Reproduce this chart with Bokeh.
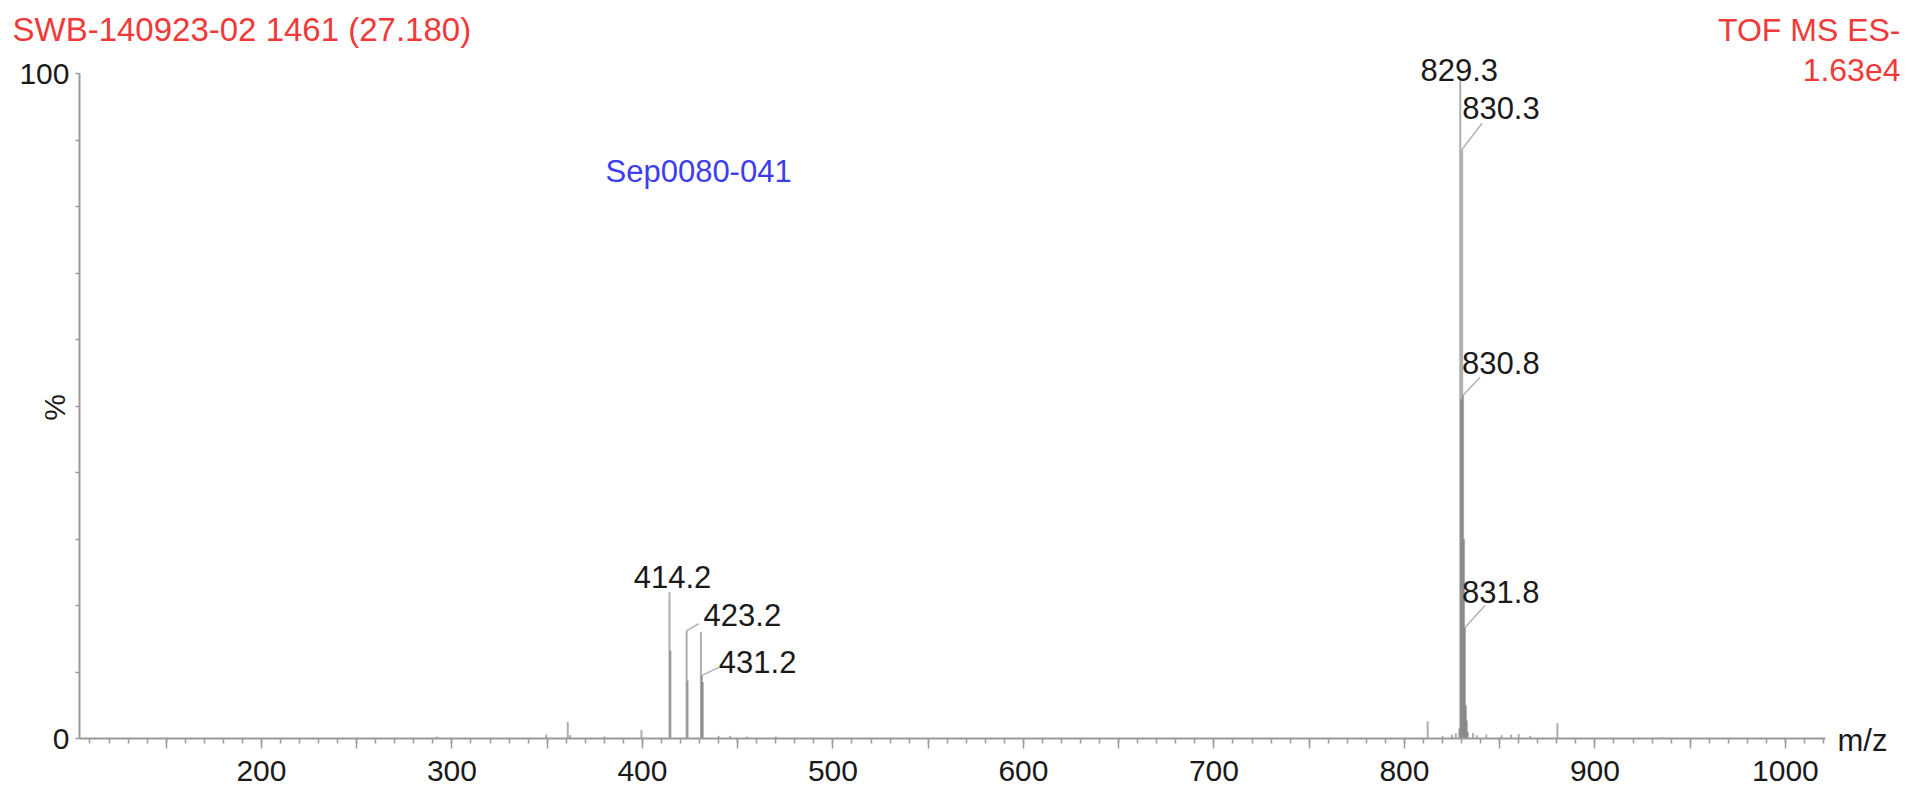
from bokeh.plotting import figure
from bokeh.models import Range1d, FixedTicker, Label, ColumnDataSource
from bokeh.core.properties import value, field
from bokeh.embed import file_html
from bokeh.resources import INLINE

# ---------------- data ----------------
stick_mz = [292.0, 349.5, 360.8, 362.0, 380.0, 399.5,
            414.2, 414.7, 423.2, 423.7, 430.7, 431.2, 431.7,
            440.0, 446.0, 455.0, 470.0,
            812.2, 820.0, 825.0, 827.0, 828.8,
            829.3, 829.8, 830.3, 830.8, 831.3, 831.8, 832.3, 832.8, 833.3,
            836.0, 838.0, 843.0, 851.0, 856.0, 860.0, 866.0, 880.3, 935.0]
stick_int = [0.3, 0.6, 2.5, 0.5, 0.3, 1.3,
             22.0, 13.2, 16.2, 8.7, 16.0, 9.5, 8.5,
             0.4, 0.4, 0.3, 0.3,
             2.6, 0.4, 0.6, 0.8, 1.5,
             100.0, 51.0, 88.6, 51.6, 30.0, 16.7, 5.0, 2.7, 1.0,
             0.8, 0.5, 0.6, 0.5, 0.6, 0.7, 0.4, 2.3, 0.2]

label_mz = [414.2, 423.2, 431.2, 829.3, 830.3, 830.8, 831.8]
label_int = [22.0, 16.2, 9.5, 100.0, 88.6, 51.6, 16.7]
label_text = ["414.2", "423.2", "431.2", "829.3", "830.3", "830.8", "831.8"]

x_tick_major = [150, 200, 250, 300, 350, 400, 450, 500, 550, 600, 650, 700,
                750, 800, 850, 900, 950, 1000]
x_tick_labelled = [200, 300, 400, 500, 600, 700, 800, 900, 1000]
x_tick_minor = list(range(110, 1021, 10))
y_ticks = [0, 10, 20, 30, 40, 50, 60, 70, 80, 90, 100]
y_tick_labelled = [0, 100]

title_left = "SWB-140923-02 1461 (27.180)"
title_right_1 = "TOF MS ES-"
title_right_2 = "1.63e4"
sample_name = "Sep0080-041"
x_title = "m/z"
y_title = "%"

# ---------------- layout ----------------
W, H = 1913, 793
AX_X = 79            # canvas x of the y axis
AX_Y = 738           # canvas y of the x axis
XS = 1.905           # px per m/z unit
YS = 6.65            # px per % unit
X_AXIS_START = 104.5
X_AXIS_END = 1021
X_START = X_AXIS_START - AX_X / XS
X_END = X_AXIS_START + (W - AX_X) / XS
Y_START = -(H - AX_Y) / YS
Y_END = AX_Y / YS
FONT = "Liberation Sans"
RED = "#EE3A3A"
BLUE = "#3D3DEE"
GREY = "#9a9a9a"
INK = "#1a1a1a"
LBL_SIZE = 31
MID = 0.35           # middle of text above its baseline, in em


def cx(px):   # canvas x -> data x
    return X_AXIS_START + (px - AX_X) / XS


def cy(py):   # canvas y -> data y
    return (AX_Y - py) / YS


# per-label placement: baseline offset (px right, px up), alignment, leader end, mask
label_layout = {
    "414.2": dict(tx=3, ty=4, align="center", lead=None, mask=False),
    "423.2": dict(tx=17, ty=5, align="left", lead=(12, 7), mask=False),
    "431.2": dict(tx=17, ty=2, align="left", lead=(17, 8), mask=False),
    "829.3": dict(tx=-1, ty=-7, align="center", lead=None, mask=True),
    "830.3": dict(tx=0, ty=30, align="left", lead=(20, 26), mask=False),
    "830.8": dict(tx=-1, ty=22, align="left", lead=(17, 18), mask=False),
    "831.8": dict(tx=-3, ty=25, align="left", lead=(20, 22), mask=False),
}

p = figure(width=W, height=H, output_backend="svg", toolbar_location=None,
           x_range=Range1d(X_START, X_END), y_range=Range1d(Y_START, Y_END),
           min_border_left=0, min_border_right=0, min_border_top=0,
           min_border_bottom=0, title=None)
p.outline_line_color = None
p.grid.visible = False
p.background_fill_color = "white"
p.border_fill_color = "white"

# x axis (drawn at y = 0 inside the frame)
xa = p.xaxis[0]
xa.fixed_location = 0
xa.ticker = FixedTicker(ticks=x_tick_major, minor_ticks=x_tick_minor)
xa.bounds = (X_AXIS_START, X_AXIS_END)
xa.major_label_overrides = {v: "" for v in x_tick_major if v not in x_tick_labelled}
xa.major_tick_out = 10
xa.major_tick_in = 0
xa.minor_tick_out = 5
xa.minor_tick_in = 0
xa.axis_line_color = GREY
xa.axis_line_width = 2
xa.major_tick_line_color = GREY
xa.major_tick_line_width = 1.5
xa.minor_tick_line_color = GREY
xa.minor_tick_line_width = 1.5
xa.major_label_text_font = FONT
xa.major_label_text_font_size = "30px"
xa.major_label_text_color = INK
xa.major_label_standoff = 12

# y axis (drawn at the left end of the x axis)
ya = p.yaxis[0]
ya.fixed_location = X_AXIS_START
ya.ticker = FixedTicker(ticks=y_ticks)
ya.bounds = (0, 100)
ya.major_label_overrides = {v: "" for v in y_ticks if v not in y_tick_labelled}
ya.major_tick_out = 4
ya.major_tick_in = 0
ya.minor_tick_line_color = None
ya.axis_line_color = GREY
ya.axis_line_width = 2
ya.major_tick_line_color = GREY
ya.major_tick_line_width = 1.5
ya.major_label_text_font = FONT
ya.major_label_text_font_size = "30px"
ya.major_label_text_color = INK
ya.major_label_standoff = 6

# spectrum sticks
p.segment(x0=stick_mz, y0=[0] * len(stick_mz), x1=stick_mz, y1=stick_int,
          line_color="#6e6e6e", line_alpha=0.55, line_width=2)

# leaders
lx0, ly0, lx1, ly1 = [], [], [], []
for m, i, t in zip(label_mz, label_int, label_text):
    lay = label_layout[t]
    if lay["lead"] is not None:
        dx, dy = lay["lead"]
        lx0.append(m)
        ly0.append(i)
        lx1.append(m + dx / XS)
        ly1.append(i + dy / YS)
p.segment(x0=lx0, y0=ly0, x1=lx1, y1=ly1, line_color="#b3b3b3", line_width=1.5)

# peak labels (vertically centred on their cap height)
for masked in (False, True):
    xs, ys, ts, als = [], [], [], []
    for m, i, t in zip(label_mz, label_int, label_text):
        lay = label_layout[t]
        if lay["mask"] != masked:
            continue
        xs.append(m + lay["tx"] / XS)
        ys.append(i + (lay["ty"] + MID * LBL_SIZE) / YS)
        ts.append(t)
        als.append(lay["align"])
    kw = dict(background_fill_color="white") if masked else {}
    src = ColumnDataSource(dict(x=xs, y=ys, text=ts, align=als))
    p.text(x="x", y="y", text="text", source=src,
           text_align=field("align"), text_baseline="middle",
           text_font=value(FONT), text_font_size=f"{LBL_SIZE}px",
           text_color=INK, **kw)


def add_label(px, py_mid, text, size, color, align, angle=0.0):
    p.add_layout(Label(x=cx(px), y=cy(py_mid), text=text, text_font=FONT,
                       text_font_size=f"{size}px", text_color=color,
                       text_align=align, text_baseline="middle", angle=angle))


add_label(12, 28.5, title_left, 33, RED, "left")
add_label(1900, 29.5, title_right_1, 32, RED, "right")
add_label(1900, 69.5, title_right_2, 32, RED, "right")
add_label(605, 170.5, sample_name, 31, BLUE, "left")
add_label(54, 407, y_title, 30, INK, "center", angle=1.5708)
add_label(1837, 740, x_title, 31, INK, "left")

open("out.html", "w").write(file_html(p, INLINE))
